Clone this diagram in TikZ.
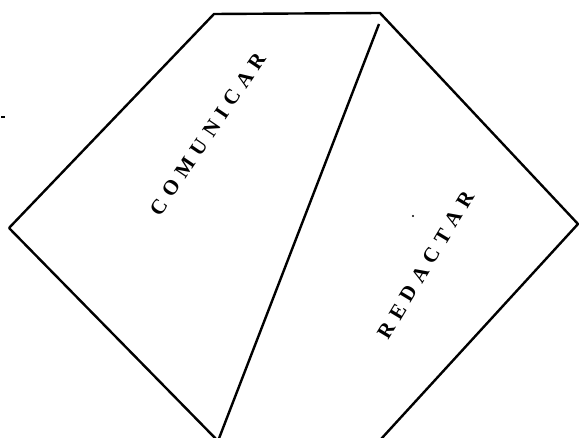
\documentclass[tikz,border=0pt]{standalone}
\usepackage{fontspec}
\setmainfont{Liberation Serif}
\usepackage{tikz}
\usetikzlibrary{calc}

\newcommand{\lsp}{\kern7pt}
\tikzset{
  edge/.style={line width=2.4pt, line join=miter},
  tag/.style={font=\bfseries\fontsize{21}{24}\selectfont, inner sep=0pt},
  speck/.style={fill=black},
}

\begin{document}
\begin{tikzpicture}[x=1pt, y=-1pt]
    \useasboundingbox (0,0) rectangle (579,438);
    \clip (0,0) rectangle (579,438);
    % outline of the two panels
    \coordinate (topL) at (214,14);
    \coordinate (topR) at (380,13);
    \coordinate (right) at (578,224);
    \coordinate (lowR) at (360,462);
    \coordinate (left) at (9,228);
    \coordinate (bot) at (218,441);
    \coordinate (diagTop) at (379,24);
    \draw[edge] (left) -- (topL) -- (topR) -- (right) -- (lowR);
    \draw[edge] (left) -- (bot);
    \draw[edge] (diagTop) -- (bot);
    \node[tag, rotate=56] (comunicar) at (208,134)
      {C\lsp O\lsp M\lsp U\lsp N\lsp I\lsp C\lsp A\lsp R};
    \node[tag, rotate=59] (redactar) at (426,265)
      {R\lsp E\lsp D\lsp A\lsp C\lsp T\lsp A\lsp R};
    \fill[speck] (1,116.5) rectangle (5,118.5);
    \fill[speck] (413,216) circle (1.1);
\end{tikzpicture}
\end{document}
